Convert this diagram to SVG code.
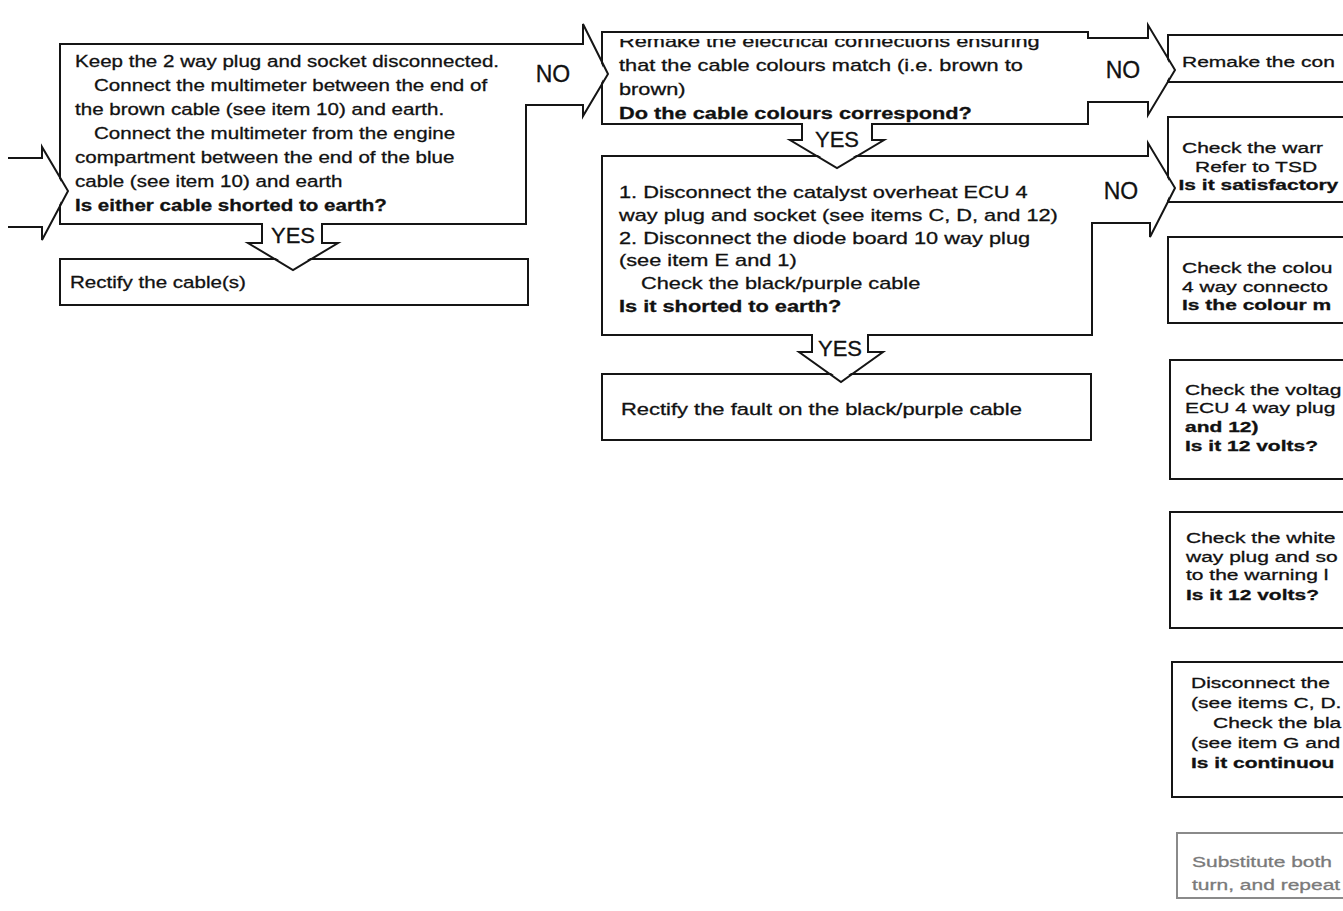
<svg xmlns="http://www.w3.org/2000/svg" width="1343" height="911" viewBox="0 0 1343 911">
<style>
.bx{fill:#fff;stroke:#151515;stroke-width:2}
.gb{fill:#fff;stroke:#8a8a8a;stroke-width:2}
.t{font-family:"Liberation Sans",Arial,sans-serif;font-size:17px;fill:#111;stroke:#111;stroke-width:0.3;white-space:pre}
.r{font-size:15px}
.b{font-weight:bold}
.g{fill:#7a7a7a;stroke:#7a7a7a}
.lb{font-family:"Liberation Sans",Arial,sans-serif;font-size:23px;fill:#111;stroke:#111;stroke-width:0.3;text-anchor:middle}
.ys{font-size:22px}
.af{fill:#fff;stroke:none}
.ao{fill:none;stroke:#151515;stroke-width:2;stroke-linejoin:miter}
</style>
<defs>
<clipPath id="cutTop"><rect x="-20" y="39" width="400" height="30"/></clipPath>
</defs>
<rect width="1343" height="911" fill="#fff"/>

<g id="n1">
<rect class="bx" x="60" y="44" width="466" height="180"/>
<g class="t" transform="translate(75 0) scale(1.21 1)">
<text x="0" y="67">Keep the 2 way plug and socket disconnected.</text>
<text x="15.7" y="91">Connect the multimeter between the end of</text>
<text x="0" y="115">the brown cable (see item 10) and earth.</text>
<text x="15.7" y="139">Connect the multimeter from the engine</text>
<text x="0" y="163">compartment between the end of the blue</text>
<text x="0" y="187">cable (see item 10) and earth</text>
<text x="0" y="211" class="b">Is either cable shorted to earth?</text>
</g>
</g>

<g id="n2">
<rect class="bx" x="60" y="259" width="468" height="46"/>
<g class="t" transform="translate(70 0) scale(1.21 1)"><text x="0" y="288">Rectify the cable(s)</text></g>
</g>

<g id="n3">
<rect class="bx" x="602" y="32" width="486" height="92"/>
<g class="t" transform="translate(619 0) scale(1.28 1)">
<text x="0" y="47" clip-path="url(#cutTop)">Remake the electrical connections ensuring</text>
<text x="0" y="71">that the cable colours match (i.e. brown to</text>
<text x="0" y="95">brown)</text>
<text x="0" y="119" class="b">Do the cable colours correspond?</text>
</g>
</g>

<g id="n4">
<rect class="bx" x="602" y="156" width="490" height="179"/>
<g class="t" transform="translate(619 0) scale(1.28 1)">
<text x="0" y="198">1.  Disconnect the catalyst overheat ECU 4</text>
<text x="0" y="221">way plug and socket (see items C, D, and 12)</text>
<text x="0" y="244">2.  Disconnect the diode board 10 way plug</text>
<text x="0" y="266">(see item E and 1)</text>
<text x="17.2" y="289">Check the black/purple cable</text>
<text x="0" y="312" class="b">Is it shorted to earth?</text>
</g>
</g>

<g id="n5">
<rect class="bx" x="602" y="374" width="489" height="66"/>
<g class="t" transform="translate(621 0) scale(1.29 1)"><text x="0" y="415">Rectify the fault on the black/purple cable</text></g>
</g>

<g id="r1">
<rect class="bx" x="1168" y="35" width="250" height="47"/>
<g class="t r" transform="translate(1182 0) scale(1.4 1)"><text x="0" y="67">Remake the con</text></g>
</g>
<g id="r2">
<rect class="bx" x="1168" y="117" width="250" height="85"/>
<g class="t r" transform="translate(1182 0) scale(1.4 1)">
<text x="0" y="153">Check the warr</text>
<text x="9.3" y="172">Refer to TSD</text>
<text x="-2.5" y="190" class="b">Is it satisfactory</text>
</g>
</g>
<g id="r3">
<rect class="bx" x="1168" y="237" width="250" height="86"/>
<g class="t r" transform="translate(1182 0) scale(1.4 1)">
<text x="0" y="273">Check the colou</text>
<text x="0" y="292">4 way connecto</text>
<text x="0" y="310" class="b">Is the colour m</text>
</g>
</g>
<g id="r4">
<rect class="bx" x="1170" y="360" width="250" height="119"/>
<g class="t r" transform="translate(1185 0) scale(1.4 1)">
<text x="0" y="395">Check the voltag</text>
<text x="0" y="413">ECU 4 way plug</text>
<text x="0" y="432" class="b">and 12)</text>
<text x="0" y="451" class="b">Is it 12 volts?</text>
</g>
</g>
<g id="r5">
<rect class="bx" x="1170" y="512" width="250" height="116"/>
<g class="t r" transform="translate(1186 0) scale(1.4 1)">
<text x="0" y="543">Check the white</text>
<text x="0" y="562">way plug and so</text>
<text x="0" y="580">to the warning l</text>
<text x="0" y="600" class="b">Is it 12 volts?</text>
</g>
</g>
<g id="r6">
<rect class="bx" x="1172" y="662" width="250" height="135"/>
<g class="t r" transform="translate(1191 0) scale(1.4 1)">
<text x="0" y="688">Disconnect the</text>
<text x="0" y="708">(see items C, D.</text>
<text x="15.7" y="728">Check the bla</text>
<text x="0" y="748">(see item G and</text>
<text x="0" y="768" class="b">Is it continuou</text>
</g>
</g>
<g id="r7">
<rect class="gb" x="1177" y="833" width="250" height="65"/>
<g class="t r g" transform="translate(1192 0) scale(1.4 1)">
<text x="0" y="867">Substitute both</text>
<text x="0" y="890">turn, and repeat</text>
</g>
</g>

<g id="connectors">
<path class="af" d="M8,159 H43 V149 L66,191 L43,238 V226 H8 Z"/>
<path class="ao" d="M8,158 H42 V147 L68,191 L42,240 V227 H8"/>

<path class="af" d="M520,45 H584 V26 L606,74 L584,114 V104 H520 Z"/>
<path class="ao" d="M526,44 H583 V24 L608,74 L583,116 V105 H526"/>
<text class="lb" x="553" y="82">NO</text>

<path class="af" d="M1082,39 H1149 V27 L1173,70 L1149,113 V101 H1082 Z"/>
<path class="ao" d="M1088,38 H1148 V25 L1175,70 L1148,115 V102 H1088"/>
<text class="lb" x="1123" y="78">NO</text>

<path class="af" d="M1086,157 H1149 V145 L1173,188 L1151,235 V222 H1086 Z"/>
<path class="ao" d="M1092,156 H1148 V143 L1175,188 L1150,237 V223 H1092"/>
<text class="lb" x="1121" y="199">NO</text>

<path class="af" d="M263,218 H321 V244 H335 L293,268 L251,244 H263 Z"/>
<path class="ao" d="M262,224 V243 H248 L293,270 L338,243 H322 V224"/>
<text class="lb ys" x="293" y="243">YES</text>

<path class="af" d="M803,122 H871 V141 H881 L837,166 L793,141 H803 Z"/>
<path class="ao" d="M802,124 V140 H790 L837,168 L884,140 H872 V124"/>
<text class="lb ys" x="837" y="147">YES</text>

<path class="af" d="M813,333 H867 V353 H880 L841,380 L802,353 H813 Z"/>
<path class="ao" d="M812,335 V352 H799 L841,382 L883,352 H868 V335"/>
<text class="lb ys" x="840" y="356">YES</text>
</g>
</svg>
